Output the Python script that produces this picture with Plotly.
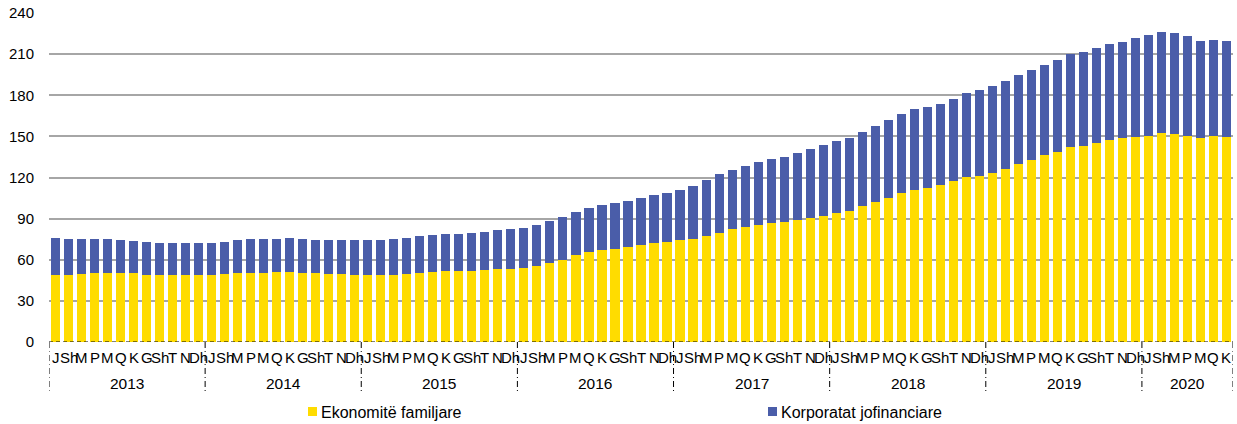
import plotly.graph_objects as go

years = ["2013", "2014", "2015", "2016", "2017", "2018", "2019", "2020"]
month_labels = ["J", "Sh", "M", "P", "M", "Q", "K", "G", "Sh", "T", "N", "Dh"]
months_per_year = [12, 12, 12, 12, 12, 12, 12, 7]
series_names = ["Ekonomitë familjare", "Korporatat jofinanciare"]

households = [
    49.1, 49.0, 49.8, 50.0, 50.0, 50.0, 50.0, 49.0, 49.0, 48.8, 49.0, 49.0,
    48.8, 49.3, 50.0, 50.0, 50.5, 50.8, 50.8, 50.3, 50.0, 49.8, 49.3, 48.8,
    48.6, 48.6, 49.0, 49.8, 50.3, 50.8, 51.5, 51.7, 52.0, 52.7, 53.0, 53.2,
    53.7, 55.1, 57.3, 59.5, 63.2, 65.3, 67.3, 68.0, 69.2, 70.7, 71.9, 72.9,
    74.6, 75.1, 77.2, 79.7, 82.3, 83.6, 85.3, 86.7, 87.9, 89.1, 90.6, 92.1,
    94.2, 95.9, 98.9, 102.0, 105.4, 108.6, 111.0, 112.2, 114.2, 117.3, 120.2, 121.4,
    123.6, 126.3, 129.9, 132.9, 136.3, 138.7, 142.1, 143.3, 145.2, 147.4, 148.9, 149.6,
    150.6, 152.5, 152.1, 150.6, 148.9, 150.1, 149.4,
]
totals = [
    76.0, 75.3, 75.5, 75.5, 75.3, 74.3, 73.8, 72.6, 72.1, 71.9, 71.9, 71.9,
    72.1, 72.9, 74.1, 74.8, 75.5, 75.5, 76.0, 75.3, 74.6, 74.6, 74.3, 74.3,
    74.1, 74.1, 74.8, 76.0, 77.0, 78.0, 78.7, 78.9, 79.4, 80.6, 81.6, 82.3,
    83.1, 85.3, 88.4, 91.3, 94.7, 97.6, 99.8, 101.3, 103.0, 104.9, 106.9, 108.8,
    110.8, 113.7, 118.5, 122.2, 125.8, 128.7, 131.4, 133.3, 135.0, 137.7, 140.6, 143.8,
    146.5, 148.9, 153.0, 157.9, 162.3, 166.1, 169.8, 171.5, 173.7, 177.6, 181.4, 183.9,
    186.8, 190.2, 194.8, 198.4, 202.3, 205.5, 210.1, 211.8, 214.5, 217.1, 218.8, 221.5,
    223.7, 225.9, 225.4, 223.0, 219.8, 220.6, 219.3,
]
corporates = [round(t - h, 1) for t, h in zip(totals, households)]

x_idx = list(range(len(households)))
tick_text = []
for n in months_per_year:
    tick_text += month_labels[:n]

FONT = "Arial, Liberation Sans, sans-serif"
YELLOW = "#FFDC00"
BLUE = "#4A5DA9"
colors = [YELLOW, BLUE]

fig = go.Figure()
for name, vals, col in zip(series_names, [households, corporates], colors):
    fig.add_trace(go.Bar(x=x_idx, y=vals, name=name, showlegend=False,
                         marker=dict(color=col, line=dict(width=0))))

shapes = []
annotations = []
# dashed baseline
shapes.append(dict(type="line", xref="x", yref="y", x0=-0.5, x1=len(x_idx) - 0.5, y0=0, y1=0,
                   line=dict(color="black", width=1, dash="4px,3px")))
# month labels
for xi, t in zip(x_idx, tick_text):
    annotations.append(dict(x=xi, y=-0.046, xref="x", yref="paper", text=t,
                            showarrow=False, font=dict(size=15, color="#000"),
                            yanchor="middle", xanchor="center"))
start = 0
bounds = [0]
for y, n in zip(years, months_per_year):
    annotations.append(dict(x=start + (n - 1) / 2, y=-0.125, xref="x", yref="paper",
                            text=y, showarrow=False, font=dict(size=15.5, color="#000"),
                            yanchor="middle"))
    start += n
    bounds.append(start)
for b in bounds:
    shapes.append(dict(type="line", xref="x", yref="paper", x0=b - 0.5, x1=b - 0.5,
                       y0=0, y1=-0.155,
                       line=dict(color="black", width=1, dash="6px,3px,1px,3px")))

# manual legend (paper coords)
legend_x = [308, 768]
for lx, name, col in zip(legend_x, series_names, colors):
    px0 = (lx - 49) / 1184
    px1 = (lx + 9 - 49) / 1184
    shapes.append(dict(type="rect", xref="paper", yref="paper", x0=px0, x1=px1,
                       y0=(342 - 416) / 329, y1=(342 - 407) / 329,
                       fillcolor=col, line=dict(width=0)))
    annotations.append(dict(x=(lx + 11 - 49) / 1184, y=(342 - 412) / 329, xref="paper",
                            yref="paper", text=name, showarrow=False, xanchor="left",
                            yanchor="middle", font=dict(size=16, color="#000")))

fig.update_layout(
    barmode="stack",
    bargap=0.3,
    width=1237, height=424,
    margin=dict(l=49, r=4, t=13, b=82),
    paper_bgcolor="white", plot_bgcolor="white",
    font=dict(family=FONT, size=15, color="#000"),
    shapes=shapes,
    annotations=annotations,
    showlegend=False,
)
fig.update_xaxes(
    range=[-0.5, len(x_idx) - 0.5],
    showticklabels=False, ticks="", showgrid=False, showline=False, zeroline=False,
)
fig.update_yaxes(
    range=[0, 240], tickmode="array", tickvals=list(range(0, 241, 30)),
    showgrid=True, gridcolor="#A6A6A6", gridwidth=1.5,
    zeroline=True, zerolinecolor="white", zerolinewidth=2,
    showline=False, ticks="outside", ticklen=11, tickcolor="rgba(0,0,0,0)",
    tickfont=dict(size=15),
)

fig.write_html("out.html", config={"displayModeBar": False},
               post_script="document.body.style.margin='0px';document.body.style.overflow='hidden';")
